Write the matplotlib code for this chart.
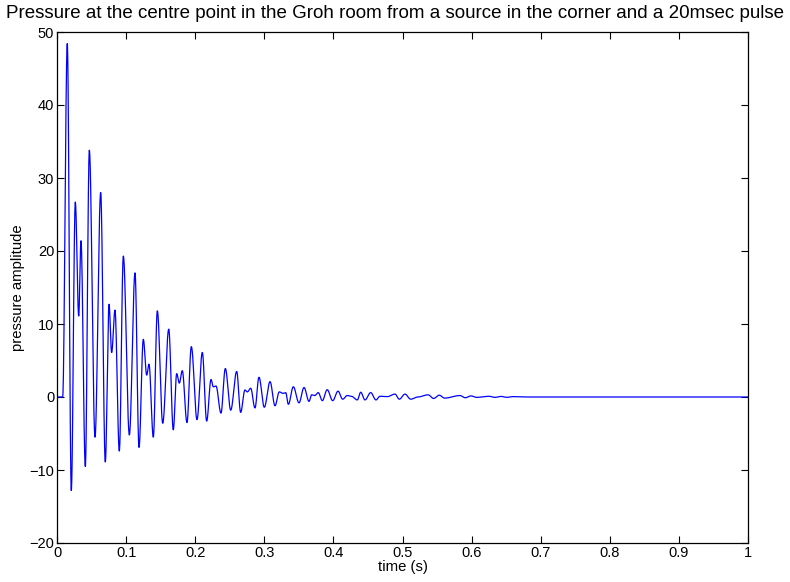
import numpy as np
import matplotlib
matplotlib.use("Agg")
import matplotlib.pyplot as plt

# Extrema of the pressure signal (time in s, amplitude)
ext_t = [0.0, 0.0082, 0.0149, 0.0207, 0.0265, 0.0314, 0.0347, 0.041, 0.0468, 0.055,
         0.0632, 0.0699, 0.0753, 0.0791, 0.0839, 0.0902, 0.096, 0.1047, 0.1129, 0.1187,
         0.1249, 0.1298, 0.1331, 0.1394, 0.1452, 0.153, 0.1617, 0.1683, 0.1732, 0.177,
         0.1813, 0.1881, 0.1944, 0.2026, 0.2103, 0.2166, 0.2229, 0.2262, 0.2301, 0.2373,
         0.2436, 0.2514, 0.26, 0.2658, 0.272, 0.2755, 0.2803, 0.2865, 0.2923, 0.3,
         0.3083, 0.3155, 0.3217, 0.327, 0.331, 0.3348, 0.342, 0.3502, 0.3575, 0.3647,
         0.3685, 0.373, 0.378, 0.384, 0.391, 0.399, 0.4067, 0.4134, 0.42, 0.426,
         0.4346, 0.4395, 0.4457, 0.454, 0.4616, 0.4674, 0.478, 0.4891, 0.4954, 0.5036,
         0.5118, 0.522, 0.537, 0.545, 0.553, 0.561, 0.583, 0.591, 0.599, 0.607,
         0.625, 0.634, 0.642, 0.651, 0.66, 0.675, 0.69, 1.0]
ext_v = [0.0, 0.0, 48.4, -12.8, 26.7, 11.1, 21.4, -9.5, 33.8, -5.5,
         28.0, -8.9, 12.7, 6.1, 11.9, -7.4, 19.3, -5.2, 17.0, -6.9,
         7.9, 3.0, 4.5, -5.5, 11.8, -3.6, 9.3, -4.5, 3.2, 1.9,
         3.6, -3.5, 6.9, -3.1, 6.1, -3.3, 2.4, 1.4, 1.5, -2.2,
         3.9, -1.8, 3.5, -2.1, 0.96, 0.7, 1.2, -1.5, 2.7, -1.4,
         2.1, -1.2, 0.7, 0.5, 0.6, -1.0, 1.4, -0.8, 1.3, -0.6,
         0.3, 0.2, 0.6, -0.5, 1.0, -0.5, 0.8, -0.3, 0.2, 0.1,
         -0.4, 0.65, -0.4, 0.6, -0.4, 0.1, 0.05, 0.4, -0.3, 0.4,
         -0.3, 0.0, 0.3, -0.2, 0.25, -0.15, 0.2, -0.1, 0.15, -0.05,
         0.1, -0.05, 0.08, -0.04, 0.05, 0.0, 0.0, 0.0]

x_ticks = [0, 0.1, 0.2, 0.3, 0.4, 0.5, 0.6, 0.7, 0.8, 0.9, 1]
x_tick_labels = ["0", "0.1", "0.2", "0.3", "0.4", "0.5", "0.6", "0.7", "0.8", "0.9", "1"]
y_ticks = [-20, -10, 0, 10, 20, 30, 40, 50]

# smooth half-cosine rendering between consecutive extrema
ts, vs = [], []
for i in range(len(ext_t) - 1):
    s = np.linspace(0, 1, 25, endpoint=False)
    ts.append(ext_t[i] + (ext_t[i + 1] - ext_t[i]) * s)
    vs.append(ext_v[i] + (ext_v[i + 1] - ext_v[i]) * (1 - np.cos(np.pi * s)) / 2)
ts.append([ext_t[-1]]); vs.append([ext_v[-1]])
t = np.concatenate(ts); v = np.concatenate(vs)

plt.rcParams['font.family'] = ['Liberation Sans', 'DejaVu Sans']
fig = plt.figure(figsize=(7.9, 5.82), dpi=100)
ax = fig.add_axes([57/790, 1-543/582, (748-57)/790, (543-32)/582])
ax.plot(t, v, color=(0, 0, 1), lw=0.9)
ax.set_xlim(0, 1)
ax.set_ylim(-20, 50)
ax.set_xticks(x_ticks)
ax.set_xticklabels(x_tick_labels)
ax.set_yticks(y_ticks)
ax.tick_params(direction='in', top=True, right=True, length=5, width=0.8,
               labelsize=10.5, pad=2)
for sp in ax.spines.values():
    sp.set_linewidth(0.9)
ax.set_xlabel("time (s)", fontsize=10.7, labelpad=0)
ax.set_ylabel("pressure amplitude", fontsize=10.7, labelpad=3)
fig.text(395/790, 1 - 18/582,
         "Pressure at the centre point in the Groh room from a source in the corner and a 20msec pulse",
         fontsize=13.5, ha='center', va='baseline')
fig.savefig("out.png", dpi=100)
